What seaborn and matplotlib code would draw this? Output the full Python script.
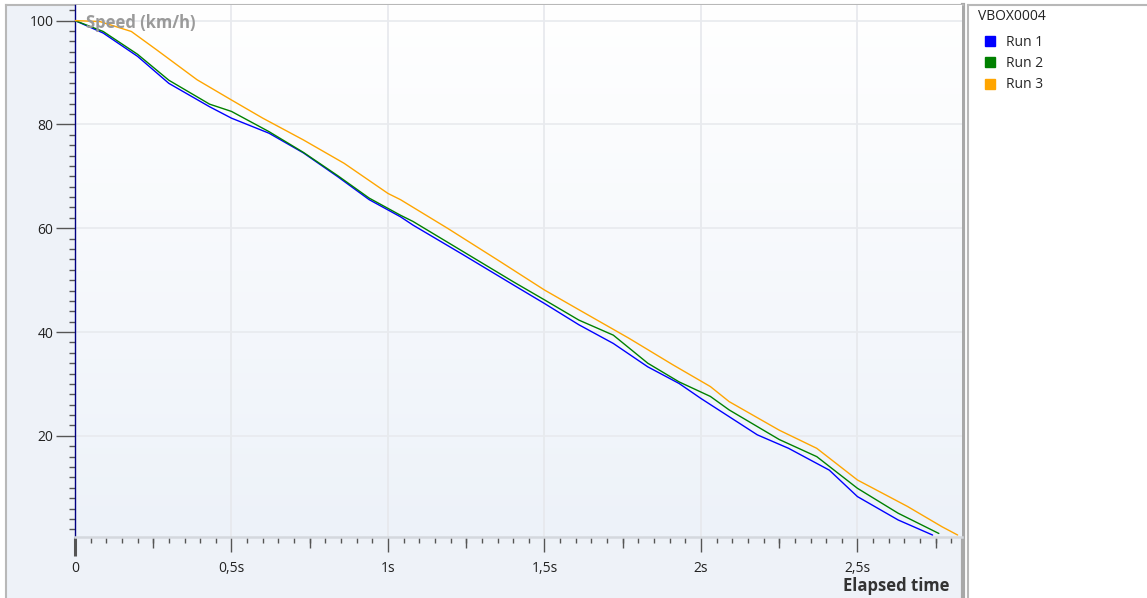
import numpy as np
import pandas as pd
import matplotlib
matplotlib.use("Agg")
import matplotlib.pyplot as plt
import seaborn as sns
from matplotlib.patches import Patch
from matplotlib.ticker import MultipleLocator, FixedLocator

# Data (time in s, speed in km/h)
run1_t = [0, 0.09, 0.20, 0.30, 0.43, 0.50, 0.62, 0.73, 0.84, 0.94, 1.04, 1.08, 1.24, 1.40,
          1.50, 1.61, 1.72, 1.83, 1.93, 2.00, 2.09, 2.18, 2.28, 2.41, 2.50, 2.63, 2.74]
run1_v = [100, 97.6, 93.1, 87.9, 83.4, 81.2, 78.3, 74.5, 69.9, 65.5, 62.2, 60.6, 54.9, 49.1,
          45.5, 41.4, 37.8, 33.3, 30.1, 27.2, 23.7, 20.2, 17.6, 13.4, 8.3, 3.8, 0.9]

run2_t = [0, 0.09, 0.20, 0.30, 0.43, 0.50, 0.58, 0.62, 0.73, 0.84, 0.94, 1.04, 1.08, 1.24,
          1.40, 1.50, 1.61, 1.72, 1.83, 1.93, 2.03, 2.09, 2.25, 2.37, 2.50, 2.63, 2.76]
run2_v = [100, 97.9, 93.5, 88.5, 83.9, 82.5, 79.9, 78.6, 74.6, 70.1, 65.8, 62.5, 61.3, 55.5,
          49.7, 46.2, 42.3, 39.4, 34.0, 30.4, 27.6, 25.0, 19.3, 16.0, 9.9, 5.1, 1.2]

run3_t = [0, 0.08, 0.18, 0.26, 0.39, 0.50, 0.60, 0.73, 0.86, 1.00, 1.04, 1.19, 1.35, 1.50,
          1.61, 1.77, 1.91, 2.03, 2.09, 2.25, 2.37, 2.50, 2.66, 2.77, 2.82]
run3_v = [100, 99.8, 97.9, 94.4, 88.6, 84.7, 81.2, 77.0, 72.5, 66.7, 65.5, 60.0, 53.9, 48.1,
          44.3, 38.8, 33.7, 29.5, 26.6, 21.1, 17.6, 11.5, 6.4, 2.5, 0.9]

run_names = ["Run 1", "Run 2", "Run 3"]
run_colors = ["#0000ff", "#008000", "#ffa500"]

x_ticks = [0, 0.5, 1.0, 1.5, 2.0, 2.5]
x_tick_labels = ["0", "0,5s", "1s", "1,5s", "2s", "2,5s"]
y_ticks = [20, 40, 60, 80, 100]

df = pd.concat([
    pd.DataFrame({"t": run1_t, "speed": run1_v, "run": "Run 1"}),
    pd.DataFrame({"t": run2_t, "speed": run2_v, "run": "Run 2"}),
    pd.DataFrame({"t": run3_t, "speed": run3_v, "run": "Run 3"}),
])

sns.set_style("white")
plt.rcParams["font.family"] = ["Open Sans", "DejaVu Sans"]

W, H = 1147, 598
fig = plt.figure(figsize=(W / 100, H / 100), dpi=100, facecolor="white")

def fx(px):
    return px / W

def fy(py):
    return 1 - py / H

# panel background and borders
bg = fig.add_axes([fx(6), 0, fx(963) - fx(6), fy(5)])
bg.set_facecolor("#eef2f8")
bg.set_xticks([])
bg.set_yticks([])
for s in ["left", "top"]:
    bg.spines[s].set_color("#b8b8b8")
    bg.spines[s].set_linewidth(1.5)
bg.spines["right"].set_color("#a8a8a8")
bg.spines["right"].set_linewidth(3)
bg.spines["bottom"].set_visible(False)

lg = fig.add_axes([fx(968), 0, 1 - fx(968), fy(5)])
lg.set_facecolor("white")
lg.set_xticks([])
lg.set_yticks([])
for s in ["left", "top"]:
    lg.spines[s].set_color("#b8b8b8")
    lg.spines[s].set_linewidth(1.5)
lg.spines["right"].set_visible(False)
lg.spines["bottom"].set_visible(False)

# main plot
x0, x1 = 75, 962
y0, y1 = 5, 537
ax = fig.add_axes([fx(x0), fy(y1), fx(x1) - fx(x0), fy(y0) - fy(y1)])
xmax = 2.834
ymin, ymax = 0.52, 103.0

grad = np.linspace(0, 1, 256).reshape(-1, 1)
top_c = np.array([1.0, 1.0, 1.0])
bot_c = np.array([0xed, 0xf2, 0xf9]) / 255
img = top_c * (1 - grad[..., None]) + bot_c * grad[..., None]
ax.imshow(img, extent=[0, xmax, ymin, ymax], aspect="auto", origin="upper", zorder=0)

for xv in x_ticks[1:]:
    ax.axvline(xv, color="#e6e8ec", lw=1.2, zorder=1)
for yv in y_ticks:
    ax.axhline(yv, color="#e8eaee", lw=1.2, zorder=1)

sns.lineplot(data=df, x="t", y="speed", hue="run", palette=run_colors,
             hue_order=run_names, lw=1, ax=ax, legend=False, zorder=3, sort=False)

ax.set_xlim(0, xmax)
ax.set_ylim(ymin, ymax)
ax.set_xlabel("")
ax.set_ylabel("")

ax.xaxis.set_major_locator(FixedLocator(x_ticks))
ax.set_xticklabels(x_tick_labels)
ax.xaxis.set_minor_locator(MultipleLocator(0.05))
ax.yaxis.set_major_locator(FixedLocator(y_ticks))
ax.set_yticklabels([str(v) for v in y_ticks])
ax.yaxis.set_minor_locator(MultipleLocator(2))

ax.tick_params(which="both", bottom=True, left=True, top=False, right=False)
ax.tick_params(axis="x", which="major", direction="out", length=11, width=1,
               color="#555555", pad=6, labelsize=10, labelcolor="#222222")
ax.tick_params(axis="x", which="minor", direction="out", length=4.5, width=1, color="#555555")
ax.tick_params(axis="y", which="major", direction="out", length=13.5, width=1,
               color="#555555", pad=2, labelsize=10, labelcolor="#222222")
ax.tick_params(axis="y", which="minor", direction="out", length=4.5, width=1, color="#555555")

t0 = ax.xaxis.get_major_ticks()[0]
t0.tick1line.set_color("black")
t0.tick1line.set_markeredgewidth(2.2)
t0.tick1line.set_markersize(13.5)

sec = ax.secondary_xaxis("bottom")
sec.set_xticks([0.25, 0.75, 1.25, 1.75, 2.25, 2.75])
sec.set_xticklabels([])
sec.tick_params(bottom=True, length=8, width=1, color="#555555")
sec.spines["bottom"].set_visible(False)

ax.spines["left"].set_color("#000080")
ax.spines["left"].set_linewidth(1)
ax.spines["bottom"].set_color("#d4d8de")
ax.spines["bottom"].set_linewidth(1.8)
ax.spines["top"].set_visible(False)
ax.spines["right"].set_visible(False)

ax.text(0.036, 99.6, "Speed (km/h)", color="#9a9a9a", fontsize=12, fontweight="bold",
        ha="left", va="center", zorder=4)
fig.text(fx(949), fy(586), "Elapsed time", color="#333333", fontsize=12,
         fontweight="bold", ha="right", va="center")

# legend
fig.text(fx(978), fy(17), "VBOX0004", color="#222222", fontsize=10, ha="left", va="center")
handles = [Patch(facecolor=c, edgecolor=c) for c in run_colors]
leg = fig.legend(handles, run_names, loc="upper left",
                 bbox_to_anchor=(fx(985), fy(35)), frameon=False, fontsize=10,
                 handlelength=0.75, handleheight=0.75, handletextpad=0.75,
                 labelspacing=0.45, borderaxespad=0, borderpad=0)

fig.savefig("out.png", dpi=100, facecolor="white")
